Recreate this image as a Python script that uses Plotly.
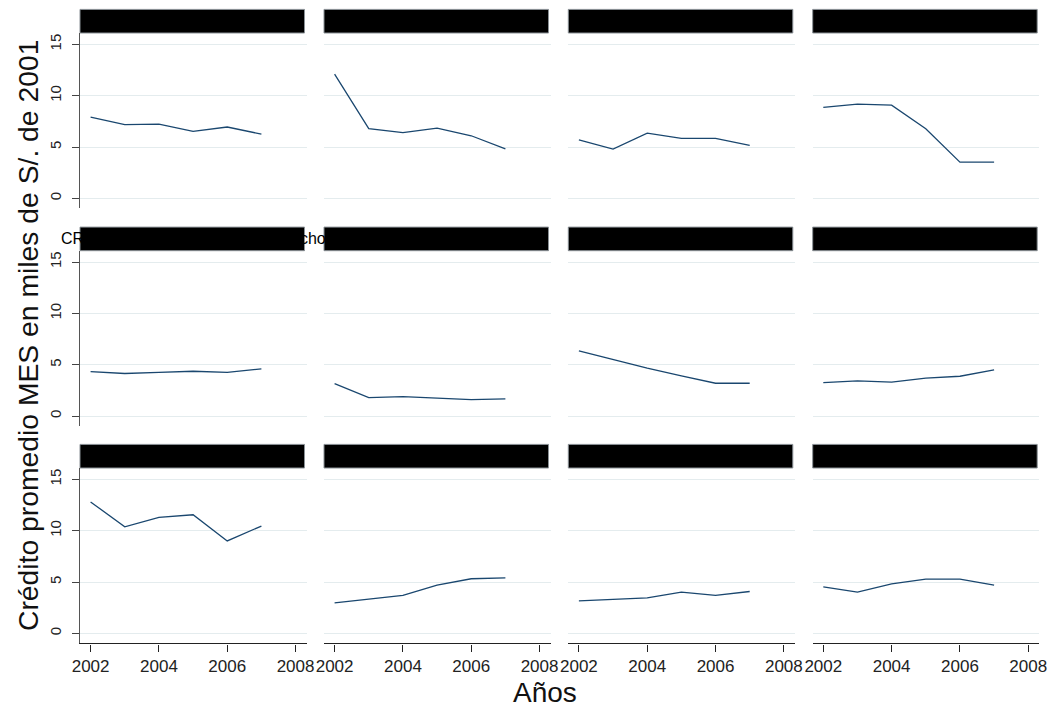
import plotly.graph_objects as go

W, H = 1049, 709

years = [2002, 2003, 2004, 2005, 2006, 2007]

panel_names = [
    "CRAC Cajamarca", "CRAC Chavín", "CRAC Credinka", "CRAC Los Andes",
    "CRAC Los Libertadores de Ayacucho", "CRAC Nor Perú", "CRAC Profinanzas", "CRAC Prymera",
    "CRAC San Martín", "CRAC Señor de Luren", "CRAC Sipán", "CRAC Total",
]

cajamarca = [7.92, 7.18, 7.24, 6.53, 6.95, 6.26]
chavin = [12.1, 6.8, 6.4, 6.85, 6.1, 4.83]
credinka = [5.71, 4.8, 6.36, 5.84, 5.84, 5.16]
los_andes = [8.86, 9.18, 9.08, 6.78, 3.53, 3.53]
libertadores = [4.34, 4.15, 4.25, 4.37, 4.25, 4.6]
nor_peru = [3.17, 1.8, 1.9, 1.73, 1.6, 1.67]
profinanzas = [6.36, 5.5, 4.67, 3.92, 3.2, 3.2]
prymera = [3.27, 3.43, 3.3, 3.69, 3.88, 4.5]
san_martin = [12.8, 10.38, 11.3, 11.55, 9.0, 10.45]
senor_luren = [2.98, 3.34, 3.7, 4.7, 5.32, 5.41]
sipan = [3.17, 3.3, 3.46, 4.02, 3.7, 4.08]
total = [4.54, 4.02, 4.83, 5.29, 5.29, 4.7]

series = [cajamarca, chavin, credinka, los_andes,
          libertadores, nor_peru, profinanzas, prymera,
          san_martin, senor_luren, sipan, total]

y_ticks = [0, 5, 10, 15]
x_ticks = [2002, 2004, 2006, 2008]

y_title = "Crédito promedio MES en miles de S/. de 2001"
x_title = "Años"

FONT = "Liberation Sans, Arial, Helvetica, sans-serif"
LINE = "#1a476f"
GRID = "#e4ecee"

col_left = [80, 324, 568.3, 812.7]
col_w = 226.5
row_top = [33, 250.7, 468]
row_h = 175.4
strip_h = 23.6

fig = go.Figure()
shapes = []
annotations = []

for i, vals in enumerate(series):
    r, c = divmod(i, 4)
    n = "" if i == 0 else str(i + 1)
    fig.add_trace(go.Scatter(
        x=years, y=vals, mode="lines",
        line=dict(color=LINE, width=1.3),
        xaxis="x" + n, yaxis="y" + n, showlegend=False, hoverinfo="x+y",
    ))
    x0 = col_left[c] / W
    x1 = (col_left[c] + col_w) / W
    y1 = 1 - row_top[r] / H
    y0 = 1 - (row_top[r] + row_h) / H
    bottom = r == 2
    left = c == 0
    fig.layout["xaxis" + n] = dict(
        domain=[x0, x1], anchor="y" + n, range=[2001.69, 2008.32],
        tickmode="array", tickvals=x_ticks, ticktext=[str(t) for t in x_ticks],
        showticklabels=bottom, ticks="outside" if bottom else "",
        ticklen=7, tickcolor="#222", tickwidth=1.2,
        showline=bottom, linecolor="#222", linewidth=1.3,
        showgrid=False, zeroline=False, automargin=False,
        tickfont=dict(family=FONT, size=17, color="#222"),
        fixedrange=True,
    )
    fig.layout["yaxis" + n] = dict(
        domain=[y0, y1], anchor="x" + n, range=[-0.97, 16.1],
        tickmode="array", tickvals=y_ticks, ticktext=[str(t) for t in y_ticks],
        showticklabels=left, ticks="outside" if left else "",
        ticklen=7, tickcolor="#444", tickwidth=1,
        tickangle=-90, ticklabelstandoff=5,
        showline=left, linecolor="#555", linewidth=1.3,
        showgrid=True, gridcolor=GRID, gridwidth=1, zeroline=False,
        automargin=False,
        tickfont=dict(family=FONT, size=15, color="#222"),
        fixedrange=True,
    )
    # strip
    sy1 = 1 - (row_top[r] - strip_h) / H
    shapes.append(dict(
        type="rect", xref="paper", yref="paper",
        x0=x0, x1=(col_left[c] + 224.5) / W, y0=y1, y1=sy1,
        fillcolor="#000000", line=dict(color="#8a9196", width=1), layer="above",
    ))
    annotations.append(dict(
        xref="paper", yref="paper", x=(col_left[c] + 113.5) / W,
        y=(y1 + sy1) / 2, text=panel_names[i], showarrow=False,
        xanchor="center", yanchor="middle",
        font=dict(family=FONT, size=16, color="#000000"),
    ))

annotations.append(dict(
    xref="paper", yref="paper", x=28 / W, y=1 - 336 / H, text=y_title,
    textangle=-90, showarrow=False, xanchor="center", yanchor="middle",
    font=dict(family=FONT, size=28.3, color="#111"),
))
annotations.append(dict(
    xref="paper", yref="paper", x=545 / W, y=1 - 692 / H, text=x_title,
    showarrow=False, xanchor="center", yanchor="middle",
    font=dict(family=FONT, size=28, color="#111"),
))

fig.update_layout(
    width=W, height=H,
    margin=dict(l=0, r=0, t=0, b=0, pad=0, autoexpand=False),
    paper_bgcolor="white", plot_bgcolor="white",
    shapes=shapes, annotations=annotations, showlegend=False,
    font=dict(family=FONT),
)

fig.write_html("out.html")
